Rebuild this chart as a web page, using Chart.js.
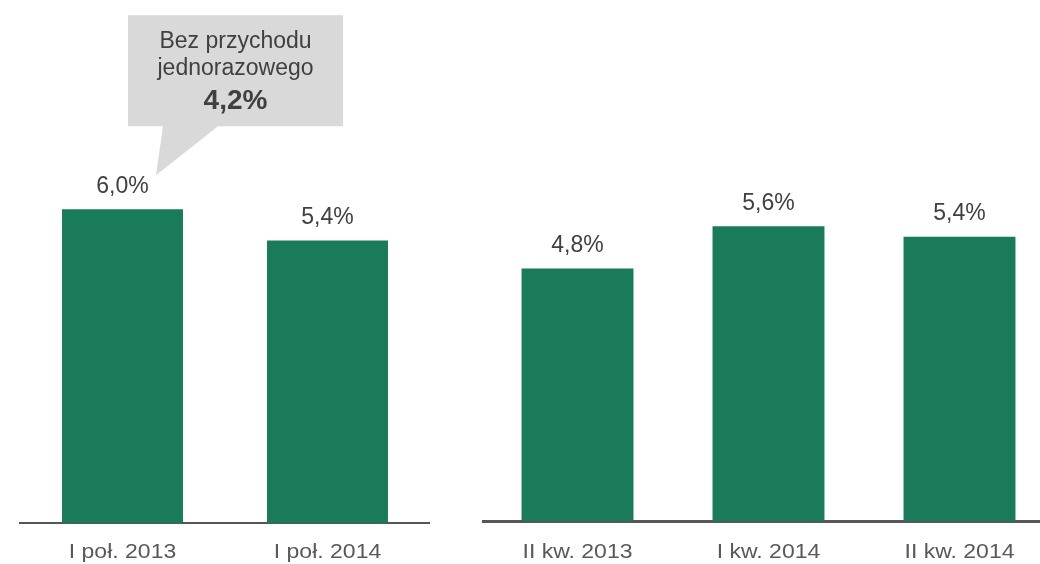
<!DOCTYPE html>
<html>
<head>
<meta charset="utf-8">
<script src="https://cdn.jsdelivr.net/npm/chart.js@4"></script>
<style>
  html, body { margin: 0; padding: 0; background: #fff; overflow: hidden; width: 1040px; height: 564px; }
  .box { position: absolute; top: 0; height: 564px; }
  #leftBox { left: 0; width: 430px; }
  #rightBox { left: 482px; width: 573px; }
</style>
</head>
<body>
<div class="box" id="leftBox"><canvas id="leftChart"></canvas></div>
<div class="box" id="rightBox"><canvas id="rightChart"></canvas></div>
<script>
const halfYearLabels = ['I poł. 2013', 'I poł. 2014'];
const halfYearValues = [6.0, 5.4];

const quarterLabels = ['II kw. 2013', 'I kw. 2014', 'II kw. 2014'];
const quarterValues = [4.8, 5.6, 5.4];

const calloutLines = ['Bez przychodu', 'jednorazowego'];
const calloutValue = '4,2%';

const BAR_GREEN = '#197b59';
const AXIS_GREY = '#55565a';
const LABEL_GREY = '#595959';
const TEXT_DARK = '#404040';
const FONT = '"Liberation Sans", Arial, sans-serif';

function fmt(v) {
  return v.toFixed(1).replace('.', ',') + '%';
}

// value labels above each bar
const valueLabels = {
  id: 'valueLabels',
  afterDatasetsDraw(chart) {
    const ctx = chart.ctx;
    const meta = chart.getDatasetMeta(0);
    ctx.save();
    ctx.font = '23px ' + FONT;
    ctx.fillStyle = TEXT_DARK;
    ctx.textAlign = 'center';
    ctx.textBaseline = 'alphabetic';
    meta.data.forEach((bar, i) => {
      ctx.fillText(fmt(chart.data.datasets[0].data[i]), bar.x, bar.y - 16.5);
    });
    ctx.restore();
  }
};

// category labels, drawn a bit wider than normal like the original
const wideTicks = {
  id: 'wideTicks',
  afterDraw(chart) {
    const ctx = chart.ctx;
    const xs = chart.scales.x;
    ctx.save();
    ctx.font = '19.5px ' + FONT;
    ctx.fillStyle = LABEL_GREY;
    ctx.textAlign = 'center';
    ctx.textBaseline = 'alphabetic';
    chart.data.labels.forEach((lab, i) => {
      const x = xs.getPixelForTick(i);
      ctx.save();
      ctx.translate(x, 558);
      ctx.scale(1.18, 1);
      ctx.fillText(lab, 0, 0);
      ctx.restore();
    });
    ctx.restore();
  }
};

// grey speech bubble pointing at the first bar
const callout = {
  id: 'callout',
  afterDraw(chart) {
    const ctx = chart.ctx;
    const bar = chart.getDatasetMeta(0).data[0];
    const tipX = bar.x + 33.5, tipY = bar.y - 34;
    const left = bar.x + 5.5, right = bar.x + 220.5;
    const top = bar.y - 194, bottom = bar.y - 83;
    const cx = bar.x + 113;
    ctx.save();
    ctx.fillStyle = '#d9d9d9';
    ctx.beginPath();
    ctx.moveTo(left, top);
    ctx.lineTo(right, top);
    ctx.lineTo(right, bottom);
    ctx.lineTo(tipX + 62, bottom);
    ctx.lineTo(tipX, tipY);
    ctx.lineTo(tipX + 7, bottom);
    ctx.lineTo(left, bottom);
    ctx.closePath();
    ctx.fill();
    ctx.fillStyle = TEXT_DARK;
    ctx.textAlign = 'center';
    ctx.textBaseline = 'alphabetic';
    ctx.font = '23px ' + FONT;
    ctx.fillText(calloutLines[0], cx, bar.y - 161);
    ctx.fillText(calloutLines[1], cx, bar.y - 134.5);
    ctx.font = 'bold 28px ' + FONT;
    ctx.fillText(calloutValue, cx, bar.y - 100);
    ctx.restore();
  }
};

function makeChart(id, labels, values, yMax, barPct, axisH, axisW, padLeft, plugins) {
  return new Chart(document.getElementById(id), {
    type: 'bar',
    data: {
      labels: labels,
      datasets: [{
        data: values,
        backgroundColor: BAR_GREEN,
        borderWidth: 0,
        barPercentage: barPct,
        categoryPercentage: 1
      }]
    },
    options: {
      responsive: true,
      maintainAspectRatio: false,
      animation: false,
      layout: { padding: { left: padLeft, right: 0, top: 0, bottom: 0 } },
      plugins: {
        legend: { display: false },
        tooltip: { enabled: false }
      },
      scales: {
        x: {
          grid: { display: false, drawTicks: false },
          border: { display: true, color: AXIS_GREY, width: axisW },
          ticks: { display: false },
          afterFit(scale) { scale.height = axisH; }
        },
        y: {
          display: false,
          min: 0,
          max: yMax
        }
      }
    },
    plugins: plugins
  });
}

makeChart('leftChart', halfYearLabels, halfYearValues, 10, 0.59, 41, 2, 20, [valueLabels, wideTicks, callout]);
makeChart('rightChart', quarterLabels, quarterValues, 9.9, 0.586, 43, 3, 0, [valueLabels, wideTicks]);
</script>
</body>
</html>
